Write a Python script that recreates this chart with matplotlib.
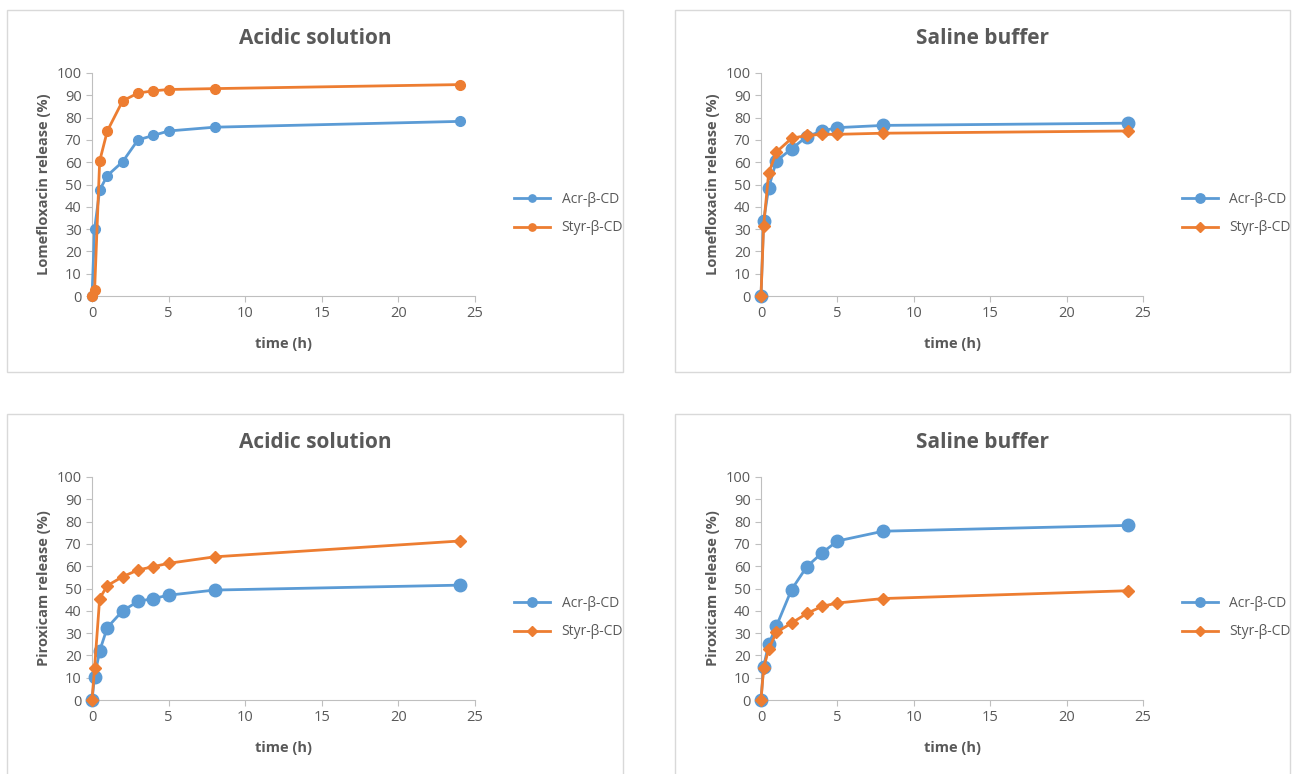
import matplotlib.pyplot as plt
from matplotlib.patches import Rectangle

# sampling times (h)
time_h = [0, 0.17, 0.5, 1, 2, 3, 4, 5, 8, 24]

# lomefloxacin release (%)
lome_acid_acr = [0, 30, 47.5, 54, 60.2, 70, 72, 74, 75.7, 78.3]
lome_acid_styr = [0, 2.5, 60.5, 74, 87.5, 91, 92, 92.6, 93, 94.8]
lome_saline_acr = [0, 33.5, 48.5, 60.5, 66, 71.5, 74, 75.5, 76.5, 77.5]
lome_saline_styr = [0, 31.5, 55, 64.5, 70.7, 72, 72.5, 72.5, 73, 74]

# piroxicam release (%)
piro_acid_acr = [0, 10.5, 22, 32.5, 40, 44.2, 45.5, 47, 49.3, 51.5]
piro_acid_styr = [0, 14.5, 45.5, 51.3, 55.3, 58.3, 59.8, 61.3, 64.2, 71.3]
piro_saline_acr = [0, 15, 25, 33, 49.5, 59.8, 66, 71.3, 75.7, 78.3]
piro_saline_styr = [0, 14.3, 22.7, 30.3, 34.5, 38.8, 42, 43.5, 45.5, 49]

series_names = ['Acr-β-CD', 'Styr-β-CD']
titles = ['Acidic solution', 'Saline buffer']
ylabels = ['Lomefloxacin release (%)', 'Piroxicam release (%)']

BLUE = '#5B9BD5'
ORANGE = '#ED7D31'
GREY_TXT = '#595959'
GREY_AX = '#BFBFBF'

plt.rcParams['font.family'] = ['Open Sans', 'DejaVu Sans']

fig = plt.figure(figsize=(12.92, 7.74), dpi=100)
W, H = 1292, 774

# (axes box in px, chart frame in px, data, marker style)
panels = [
    ((92, 73, 475, 296), (7, 10, 623, 372), lome_acid_acr, lome_acid_styr, 'o', 7, 'o', 7, 0, 0),
    ((761, 73, 1143, 296), (675, 10, 1290, 372), lome_saline_acr, lome_saline_styr, 'o', 9, 'D', 6.5, 1, 0),
    ((92, 477, 475, 700), (7, 414, 623, 790), piro_acid_acr, piro_acid_styr, 'o', 9, 'D', 6.5, 0, 1),
    ((761, 477, 1143, 700), (675, 414, 1290, 790), piro_saline_acr, piro_saline_styr, 'o', 9, 'D', 6.5, 1, 1),
]

for (ax_px, fr_px, acr, styr, m1, s1, m2, s2, ti, yi) in panels:
    # chart frame
    x0, y0, x1, y1 = fr_px
    fig.patches.append(Rectangle((x0 / W, 1 - y1 / H), (x1 - x0) / W, (y1 - y0) / H,
                                 transform=fig.transFigure, fill=False,
                                 edgecolor='#D9D9D9', linewidth=1))

    l, t, r, b = ax_px
    ax = fig.add_axes([l / W, 1 - b / H, (r - l) / W, (b - t) / H])
    ax.plot(time_h, acr, color=BLUE, marker=m1, markersize=s1, linewidth=2,
            label=series_names[0], clip_on=False, zorder=3)
    ax.plot(time_h, styr, color=ORANGE, marker=m2, markersize=s2, linewidth=2,
            label=series_names[1], clip_on=False, zorder=4)

    ax.set_xlim(0, 25)
    ax.set_ylim(0, 100)
    ax.set_xticks(range(0, 26, 5))
    ax.set_yticks(range(0, 101, 10))
    for side in ['top', 'right']:
        ax.spines[side].set_visible(False)
    for side in ['left', 'bottom']:
        ax.spines[side].set_color(GREY_AX)
    ax.tick_params(colors=GREY_TXT, labelsize=10.5, length=4, color=GREY_AX)

    ax.set_xlabel('time (h)', fontsize=10.5, fontweight='bold', color=GREY_TXT, labelpad=11)
    ax.set_ylabel(ylabels[yi], fontsize=10.5, fontweight='bold', color=GREY_TXT, labelpad=4)

    # title centred on the chart frame
    fig.text((x0 + x1) / 2 / W, 1 - (t - 34) / H, titles[ti], ha='center', va='center',
             fontsize=15, fontweight='bold', color=GREY_TXT)

    ax.legend(loc='center left', bbox_to_anchor=(1.07, 0.37), frameon=False,
              fontsize=10, labelcolor=GREY_TXT, handlelength=2.6, labelspacing=1.0,
              markerscale=0.75)

fig.savefig('out.png', dpi=100)
